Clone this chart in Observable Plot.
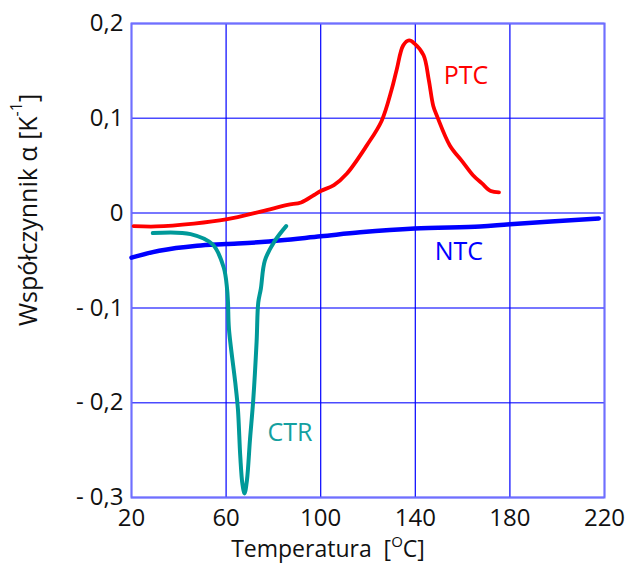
<!DOCTYPE html>
<html>
<head>
<meta charset="utf-8">
<script src="https://cdn.jsdelivr.net/npm/d3@7"></script>
<script src="https://cdn.jsdelivr.net/npm/@observablehq/plot@0.6"></script>
<style>
  html, body { margin: 0; padding: 0; background: #fff; }
  #chart svg { display: block; }
</style>
</head>
<body>
<div id="chart"></div>
<script>
// Axis ticks and labels
const xTicks = [20, 60, 100, 140, 180, 220];
const yTicks = [-0.3, -0.2, -0.1, 0, 0.1, 0.2];
const yTickLabels = ["- 0,3", "- 0,2", "- 0,1", "0", "0,1", "0,2"];

// PTC series
const ptcT = [20.9, 30.4, 46.4, 60, 75, 86, 91.7, 97.2, 100, 105.6, 111.1, 119.5, 125.8, 130, 132.1, 134.9, 137.4, 139.7, 143.5, 145.7, 147.6, 149.4, 154.6, 160, 164.4, 168.2, 171.9, 175.4];
const ptcA = [-0.0137, -0.0141, -0.0111, -0.0067, 0.0018, 0.0087, 0.0112, 0.0191, 0.0233, 0.0296, 0.0418, 0.0714, 0.0975, 0.1303, 0.151, 0.1769, 0.1821, 0.1787, 0.1665, 0.1406, 0.113, 0.101, 0.0714, 0.0541, 0.040, 0.0313, 0.0233, 0.0219];

// NTC series
const ntcT = [20, 31.7, 47.7, 60, 75, 100, 116.7, 139.7, 167.4, 180, 217.6];
const ntcA = [-0.047, -0.0397, -0.0344, -0.0326, -0.0305, -0.0245, -0.0203, -0.0162, -0.0141, -0.0117, -0.0056];

// CTR series
const ctrT = [29.0, 45.0, 54.4, 59.0, 60.4, 60.8, 61.2, 63.9, 65.0, 66.0, 66.9, 67.8, 68.8, 70.1, 71.5, 72.9, 73.6, 74.7, 76.4, 80.5, 85.4];
const ctrA = [-0.0211, -0.0222, -0.0333, -0.0574, -0.0797, -0.0944, -0.122, -0.1793, -0.2068, -0.257, -0.2856, -0.2957, -0.282, -0.239, -0.1963, -0.1355, -0.0944, -0.0797, -0.05, -0.0297, -0.0137];

// Series labels
const seriesNames = ["PTC", "NTC", "CTR"];
const seriesColors = ["#ff0000", "#0000ff", "#009999"];
const labelColors = ["#ff0000", "#0000ff", "#14a0a0"];
const labelT = [161.4, 158.4, 87];
const labelA = [0.145, -0.0408, -0.232];

const toRows = (ts, as) => ts.map((t, i) => ({t, a: as[i]}));
const ptc = toRows(ptcT, ptcA);
const ntc = toRows(ntcT, ntcA);
const ctr = toRows(ctrT, ctrA);
const labels = seriesNames.map((name, i) => ({name, t: labelT[i], a: labelA[i], color: labelColors[i]}));

const W = 625, H = 564;
const mL = 131, mR = 21, mT = 23, mB = 67;

const plot = Plot.plot({
  width: W,
  height: H,
  marginLeft: mL,
  marginRight: mR,
  marginTop: mT,
  marginBottom: mB,
  style: {fontFamily: "'Open Sans', sans-serif", fontSize: "24px", color: "#111", background: "#fff"},
  x: {domain: [20, 220], ticks: xTicks},
  y: {domain: [-0.3, 0.2], ticks: yTicks},
  marks: [
    Plot.gridY(yTicks, {stroke: "#4a4aff", strokeOpacity: 1, strokeWidth: 1.5}),
    Plot.gridX(xTicks, {stroke: "#0000ff", strokeOpacity: 1, strokeWidth: 1.2}),
    Plot.frame({stroke: "#6f6fff", strokeWidth: 2}),
    Plot.axisX({ticks: xTicks, tickSize: 0, tickPadding: 11, label: null, fill: "#111", style: {letterSpacing: "-0.8px"}}),
    Plot.axisY({ticks: yTicks, tickSize: 0, tickPadding: 8, label: null, fill: "#111",
      tickFormat: d => yTickLabels[yTicks.findIndex(v => Math.abs(v - d) < 1e-9)]}),
    Plot.line(ntc, {x: "t", y: "a", stroke: seriesColors[1], strokeWidth: 4.5, curve: "catmull-rom"}),
    Plot.line(ptc, {x: "t", y: "a", stroke: seriesColors[0], strokeWidth: 3.8, curve: "catmull-rom"}),
    Plot.line(ctr, {x: "t", y: "a", stroke: seriesColors[2], strokeWidth: 4, curve: "catmull-rom"}),
    Plot.text(labels, {x: "t", y: "a", text: "name", fill: "color", fontSize: 25, textAnchor: "middle"})
  ]
});

const svg = d3.select(plot);
// Axis titles with superscripts
const yl = svg.append("text")
  .attr("transform", `translate(27,210) rotate(-90)`)
  .attr("text-anchor", "middle")
  .attr("dominant-baseline", "central")
  .attr("fill", "#111")
  .style("font-size", "25px");
yl.append("tspan").text("Współczynnik α [K");
yl.append("tspan").attr("baseline-shift", "super").style("font-size", "16px").text("-1");
yl.append("tspan").text("]");

const xl = svg.append("text")
  .attr("x", 328)
  .attr("y", 557)
  .attr("text-anchor", "middle")
  .attr("fill", "#111")
  .style("font-size", "23px")
  .attr("xml:space", "preserve");
xl.append("tspan").text("Temperatura  [");
xl.append("tspan").attr("baseline-shift", "super").style("font-size", "15px").text("O");
xl.append("tspan").text("C]");

document.getElementById("chart").appendChild(plot);
</script>
</body>
</html>
